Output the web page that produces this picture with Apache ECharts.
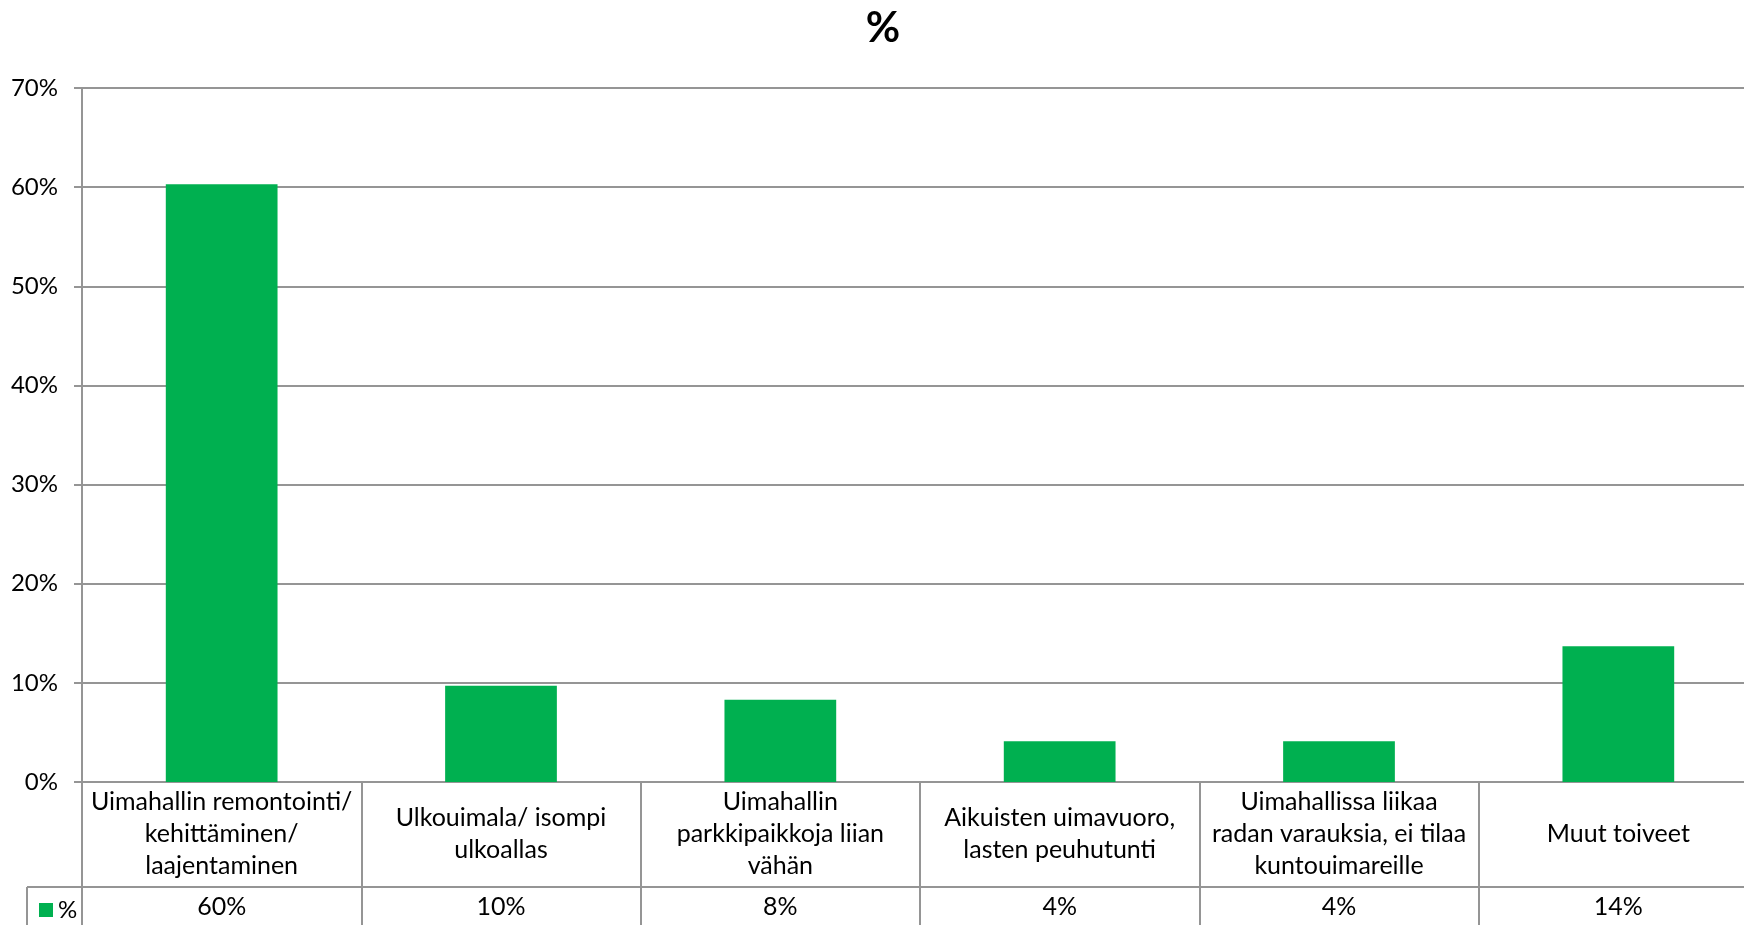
<!DOCTYPE html>
<html>
<head>
<meta charset="utf-8">
<script src="https://cdn.jsdelivr.net/npm/echarts@6/dist/echarts.min.js"></script>
<style>
html,body{margin:0;padding:0;background:#fff;overflow:hidden;}
#chart{width:1760px;height:925px;}
</style>
</head>
<body>
<div id="chart"></div>
<script>
const categories = [
  "Uimahallin remontointi/\nkehittäminen/\nlaajentaminen",
  "Ulkouimala/ isompi\nulkoallas",
  "Uimahallin\nparkkipaikkoja liian\nvähän",
  "Aikuisten uimavuoro,\nlasten peuhutunti",
  "Uimahallissa liikaa\nradan varauksia, ei tilaa\nkuntouimareille",
  "Muut toiveet"
];
const seriesName = "%";
const values = [0.603, 0.097, 0.083, 0.041, 0.041, 0.137];
const yTicks = [0, 0.1, 0.2, 0.3, 0.4, 0.5, 0.6, 0.7];

const FONT = 'Lato';
const GRID = '#959595';
const chart = echarts.init(document.getElementById('chart'));
chart.setOption({
  animation: false,
  backgroundColor: '#fff',
  title: {
    text: '%', left: 878, textAlign: 'center', top: 2,
    textStyle: {fontFamily: FONT, fontWeight: 'bold', fontSize: 42, color: '#000'}
  },
  legend: {
    data: [seriesName], left: 34, top: 893,
    icon: 'rect', itemWidth: 14, itemHeight: 14, itemGap: 0,
    textStyle: {fontFamily: FONT, fontSize: 24, color: '#000', padding: [0,0,0,0]}
  },
  grid: {left: 82, right: 2, top: 88, bottom: 143, containLabel: false},
  xAxis: [{
    type: 'category', data: categories, position: 'bottom',
    axisLine: {show: true, lineStyle: {color: GRID, width: 2}},
    axisTick: {show: true, length: 143, lineStyle: {color: GRID, width: 2}},
    axisLabel: {
      interval: 0, margin: 52, verticalAlign: 'middle', align: 'center',
      lineHeight: 32, fontFamily: FONT, fontSize: 25, color: '#000'
    }
  }, {
    type: 'category', data: categories, position: 'bottom',
    axisLine: {show: false}, axisTick: {show: false},
    axisLabel: {
      interval: 0, margin: 125, verticalAlign: 'middle', align: 'center',
      fontFamily: FONT, fontSize: 25, color: '#000',
      formatter: (v, i) => Math.round(values[i] * 100) + '%'
    }
  }],
  yAxis: {
    type: 'value', min: 0, max: 0.7, interval: 0.1,
    axisLine: {show: true, lineStyle: {color: GRID, width: 2}},
    axisTick: {show: true, length: 8, lineStyle: {color: GRID, width: 2}},
    splitLine: {show: true, lineStyle: {color: GRID, width: 2}},
    axisLabel: {
      margin: 24, fontFamily: FONT, fontSize: 24, color: '#000',
      formatter: v => Math.round(v * 100) + '%'
    }
  },
  series: [{
    name: seriesName, type: 'bar', data: values, barWidth: '40%',
    itemStyle: {color: '#00b050'}, xAxisIndex: 0
  }],
  graphic: [
    {type: 'line', shape: {x1: 27, y1: 887, x2: 1760, y2: 887}, style: {stroke: GRID, lineWidth: 2}, silent: true},
    {type: 'line', shape: {x1: 27, y1: 887, x2: 27, y2: 925}, style: {stroke: GRID, lineWidth: 2}, silent: true}
  ]
});
</script>
</body>
</html>
